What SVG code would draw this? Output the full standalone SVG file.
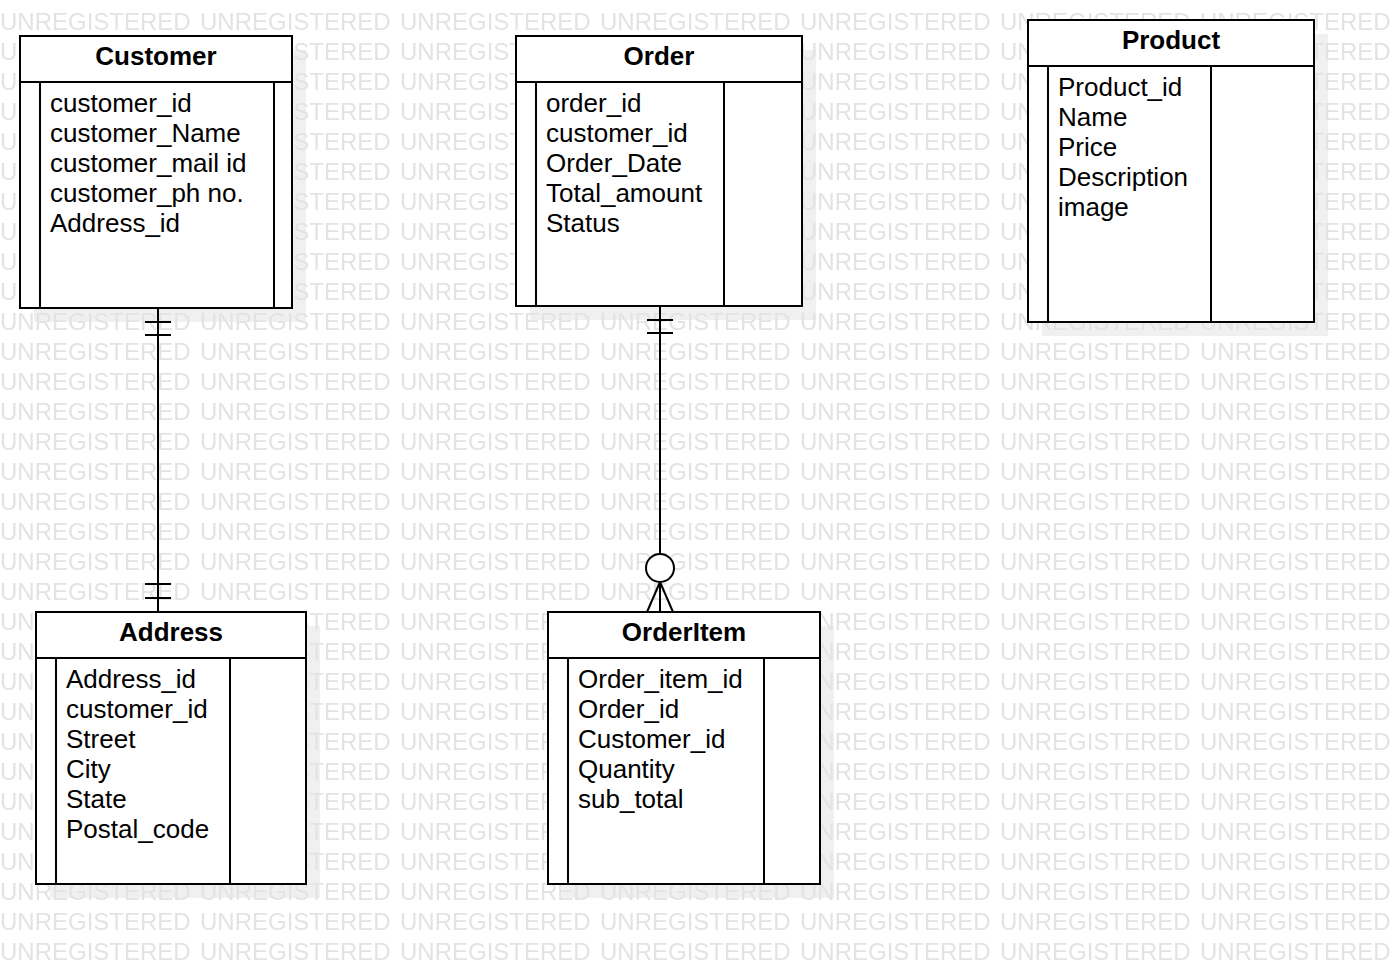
<svg xmlns="http://www.w3.org/2000/svg" width="1394" height="964" viewBox="0 0 1394 964">
<style>
.wm{font-family:"Liberation Sans",Arial,sans-serif;font-size:24px;fill:#e3e3e3}
.shadow{fill:#000;fill-opacity:0.06}
.box{fill:#fff;stroke:#000;stroke-width:2}
.ln{stroke:#000;stroke-width:2;fill:none}
.title{font-family:"Liberation Sans",Arial,sans-serif;font-size:26px;font-weight:bold;text-anchor:middle;fill:#000}
.attr{font-family:"Liberation Sans",Arial,sans-serif;font-size:26px;fill:#000}
</style>
<defs>
<pattern id="wmp" patternUnits="userSpaceOnUse" x="0" y="1" width="200" height="30">
<text class="wm" x="0" y="29">UNREGISTERED</text>
</pattern>
</defs>
<rect width="1394" height="964" fill="#fff"/>
<g id="shadows">
<rect class="shadow" x="34" y="50" width="272" height="272"/>
<rect class="shadow" x="530" y="50" width="286" height="270"/>
<rect class="shadow" x="1042" y="34" width="286" height="302"/>
<rect class="shadow" x="50" y="626" width="270" height="272"/>
<rect class="shadow" x="562" y="626" width="272" height="272"/>
</g>
<rect id="watermark" width="1394" height="964" fill="url(#wmp)"/>
<g id="connectors">
<g id="customer-address">
<line class="ln" x1="158" y1="308" x2="158" y2="612"/>
<line class="ln" x1="145" y1="322" x2="171" y2="322"/>
<line class="ln" x1="145" y1="335" x2="171" y2="335"/>
<line class="ln" x1="145" y1="584" x2="171" y2="584"/>
<line class="ln" x1="145" y1="598" x2="171" y2="598"/>
</g>
<g id="order-orderitem">
<line class="ln" x1="660" y1="306" x2="660" y2="554"/>
<line class="ln" x1="647" y1="320" x2="673" y2="320"/>
<line class="ln" x1="647" y1="333" x2="673" y2="333"/>
<circle cx="660" cy="568" r="14" fill="#fff" stroke="#000" stroke-width="2"/>
<line class="ln" x1="660" y1="582" x2="660" y2="612"/>
<line class="ln" x1="660" y1="582" x2="647" y2="612"/>
<line class="ln" x1="660" y1="582" x2="673" y2="612"/>
</g>
</g>
<g id="customer">
<rect class="box" x="20" y="36" width="272" height="272"/>
<line class="ln" x1="20" y1="82" x2="292" y2="82"/>
<line class="ln" x1="40" y1="82" x2="40" y2="308"/>
<line class="ln" x1="274" y1="82" x2="274" y2="308"/>
<text class="title" x="156" y="65">Customer</text>
<text class="attr" x="50" y="112">customer_id</text>
<text class="attr" x="50" y="142">customer_Name</text>
<text class="attr" x="50" y="172">customer_mail id</text>
<text class="attr" x="50" y="202">customer_ph no.</text>
<text class="attr" x="50" y="232">Address_id</text>
</g>
<g id="order">
<rect class="box" x="516" y="36" width="286" height="270"/>
<line class="ln" x1="516" y1="82" x2="802" y2="82"/>
<line class="ln" x1="536" y1="82" x2="536" y2="306"/>
<line class="ln" x1="724" y1="82" x2="724" y2="306"/>
<text class="title" x="659" y="65">Order</text>
<text class="attr" x="546" y="112">order_id</text>
<text class="attr" x="546" y="142">customer_id</text>
<text class="attr" x="546" y="172">Order_Date</text>
<text class="attr" x="546" y="202">Total_amount</text>
<text class="attr" x="546" y="232">Status</text>
</g>
<g id="product">
<rect class="box" x="1028" y="20" width="286" height="302"/>
<line class="ln" x1="1028" y1="66" x2="1314" y2="66"/>
<line class="ln" x1="1048" y1="66" x2="1048" y2="322"/>
<line class="ln" x1="1211" y1="66" x2="1211" y2="322"/>
<text class="title" x="1171" y="49">Product</text>
<text class="attr" x="1058" y="96">Product_id</text>
<text class="attr" x="1058" y="126">Name</text>
<text class="attr" x="1058" y="156">Price</text>
<text class="attr" x="1058" y="186">Description</text>
<text class="attr" x="1058" y="216">image</text>
</g>
<g id="address">
<rect class="box" x="36" y="612" width="270" height="272"/>
<line class="ln" x1="36" y1="658" x2="306" y2="658"/>
<line class="ln" x1="56" y1="658" x2="56" y2="884"/>
<line class="ln" x1="230" y1="658" x2="230" y2="884"/>
<text class="title" x="171" y="641">Address</text>
<text class="attr" x="66" y="688">Address_id</text>
<text class="attr" x="66" y="718">customer_id</text>
<text class="attr" x="66" y="748">Street</text>
<text class="attr" x="66" y="778">City</text>
<text class="attr" x="66" y="808">State</text>
<text class="attr" x="66" y="838">Postal_code</text>
</g>
<g id="orderitem">
<rect class="box" x="548" y="612" width="272" height="272"/>
<line class="ln" x1="548" y1="658" x2="820" y2="658"/>
<line class="ln" x1="568" y1="658" x2="568" y2="884"/>
<line class="ln" x1="764" y1="658" x2="764" y2="884"/>
<text class="title" x="684" y="641">OrderItem</text>
<text class="attr" x="578" y="688">Order_item_id</text>
<text class="attr" x="578" y="718">Order_id</text>
<text class="attr" x="578" y="748">Customer_id</text>
<text class="attr" x="578" y="778">Quantity</text>
<text class="attr" x="578" y="808">sub_total</text>
</g>
</svg>
